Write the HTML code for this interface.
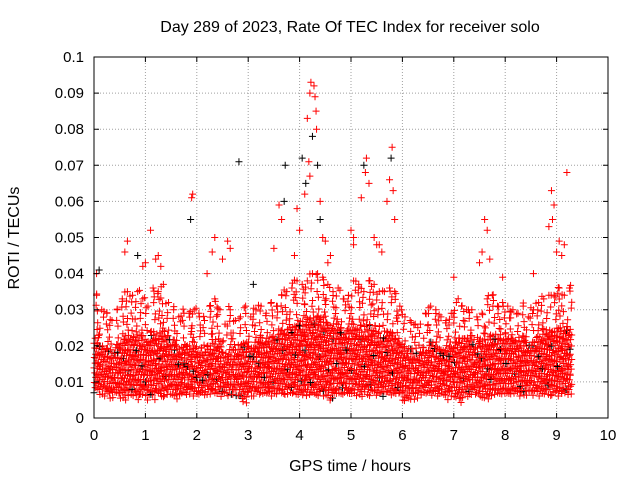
<!DOCTYPE html>
<html><head><meta charset="utf-8"><style>
body{margin:0;background:#fff;}
svg{display:block;font-family:"Liberation Sans",sans-serif;}
</style></head><body>
<svg id="chart" width="640" height="480">
<text x="350" y="32" font-size="16" text-anchor="middle">Day 289 of 2023, Rate Of TEC Index for receiver solo</text>
<text x="350" y="471" font-size="16" text-anchor="middle">GPS time / hours</text>
<text transform="translate(19,238) rotate(-90)" font-size="16" text-anchor="middle">ROTI / TECUs</text>
<g id="grid"></g><g id="marks"></g><g id="axes"></g>
</svg>
<script>
const xTicks=[0,1,2,3,4,5,6,7,8,9,10];
const yTicks=[0,0.01,0.02,0.03,0.04,0.05,0.06,0.07,0.08,0.09,0.1];
const yTickLabels=["0","0.01","0.02","0.03","0.04","0.05","0.06","0.07","0.08","0.09","0.1"];
// bins every 0.1 h from 0 to 9.2; values in 0.001 TECU
const bandLow=[7,6,6,5,6,5,5,6,5,6,5,5,6,5,6,6,5,6,6,6,6,6,6,6,6,6,6,6,5,4,6,6,6,6,6,6,6,6,6,6,6,6,6,6,6,5,5,6,6,6,6,6,6,6,6,6,6,6,6,6,4,5,5,6,6,6,6,6,5,6,5,4,6,6,6,5,5,6,6,6,6,6,6,6,6,6,6,6,6,6,6,6,6];
const bandCore=[22,20,19,18,20,21,23,22,23,22,21,24,23,24,22,21,19,20,20,21,19,18,20,21,21,18,19,19,20,21,20,21,22,21,23,22,24,24,25,26,26,27,28,28,27,26,25,26,24,25,26,25,24,26,25,23,23,24,23,21,19,19,18,18,19,21,20,19,19,20,21,22,22,22,20,21,22,23,22,22,23,22,21,22,20,21,23,24,24,24,25,24,25];
const bandHigh=[34,30,29,27,30,33,35,34,35,33,31,36,35,37,32,30,28,29,29,30,28,27,31,33,30,26,30,27,28,31,28,30,31,29,32,31,34,35,36,38,37,38,40,40,39,37,35,36,33,34,38,37,35,38,37,35,35,36,35,31,28,27,26,26,29,31,30,28,27,29,32,31,30,30,28,29,33,34,31,32,31,30,29,31,28,30,32,33,34,34,36,34,36];
const spikeX=[0.05,0.65,0.85,1.0,1.1,1.25,1.9,1.92,1.88,2.35,2.6,2.82,3.6,3.7,3.72,3.95,4.05,4.15,4.2,4.22,4.28,4.3,4.32,4.25,4.35,4.4,4.18,4.12,5.0,5.05,5.25,5.3,5.28,5.45,5.55,5.75,5.8,5.78,5.82,5.7,7.6,7.65,7.55,8.9,8.95,8.92,9.05,9.1,9.2,4.6,4.45,2.5,0.1,3.1,1.3,0.6,1.2,2.3,2.65,3.5,3.65,3.9,4.1,4.4,4.5,4.55,5.05,5.35,5.5,5.6,5.85,7.0,7.5,7.7,7.95,8.55,8.85,9.15,9.0,4.0,4.2,4.33,5.2,0.95,2.2];
const spikeY=[40,49,45,43,52,45,61,62,55,50,49,71,59,60,70,58,72,83,90,93,92,89,85,78,70,60,71,65,52,48,70,72,68,50,48,66,75,72,63,60,55,52,46,63,59,55,49,45,68,45,50,44,41,37,42,46,44,46,47,47,55,45,62,55,49,43,50,65,48,46,55,39,43,44,39,40,53,48,46,52,67,80,61,42,40];
const spikeBlack=[0,0,1,0,0,0,0,0,1,0,0,1,0,1,1,0,1,0,0,0,0,0,0,1,1,0,0,1,0,0,1,0,0,0,0,0,0,1,0,0,0,0,0,0,0,0,0,0,0,0,0,0,1,1,0,0,0,0,0,0,0,0,0,1,0,0,0,0,0,0,0,0,0,0,0,0,0,0,0,0,0,0,0,0,0];
const X0=94,X1=608,Y0=418,Y1=57;
const sx=v=>X0+(v/10)*(X1-X0);
const sy=v=>Y0-(v/0.1)*(Y0-Y1);
const NS="http://www.w3.org/2000/svg";
const grid=document.getElementById('grid'),axes=document.getElementById('axes'),marks=document.getElementById('marks');
function mk(tag,attrs,parent){const e=document.createElementNS(NS,tag);for(const k in attrs)e.setAttribute(k,attrs[k]);parent.appendChild(e);return e;}
xTicks.forEach((t,i)=>{const x=sx(t);
 if(i>0&&i<xTicks.length-1){const g=mk('line',{x1:x,x2:x,y1:Y0,y2:Y1,stroke:'#a0a0a0','stroke-dasharray':'1,2'},grid);
 
 }
 const tk=mk('path',{d:`M${x},${Y0}v-5M${x},${Y1}v5`,stroke:'#000'},axes);
 
 
 const l=mk('text',{x:x,y:Y0+22,'font-size':15,'text-anchor':'middle'},axes);l.textContent=t;
 
 });
yTicks.forEach((t,i)=>{const y=sy(t);
 if(i>0&&i<yTicks.length-1){const g=mk('line',{x1:X0,x2:X1,y1:y,y2:y,stroke:'#a0a0a0','stroke-dasharray':'1,2'},grid);
 
 }
 const tk=mk('path',{d:`M${X0},${y}h5M${X1},${y}h-5`,stroke:'#000'},axes);
 
 
 const l=mk('text',{x:X0-10,y:y+5,'font-size':15,'text-anchor':'end'},axes);l.textContent=yTickLabels[i];
 
 });
const frame=mk('rect',{x:X0,y:Y1,width:X1-X0,height:Y0-Y1,fill:'none',stroke:'#000'},axes);


function plus(x,y,col){const p=mk('path',{d:`M${x-3.5},${y}h7M${x},${y-3.5}v7`,stroke:col,'stroke-width':1},marks);
 
 }
const jx=[0,0.061,0.023,0.085,0.041,0.007,0.072,0.033,0.094,0.052,0.015,0.066];
const jy=[0,0.7,0.3,0.9,0.5,0.1,0.8,0.4,0.6,0.2];
let k=0;
bandLow.forEach((lo,i)=>{const core=bandCore[i],hi=bandHigh[i];const t=i*0.1;
 for(let v=lo;v<=core;v+=0.55){
  const col=(k%29===0)?'#000':'#ff0000';
  plus(sx(t+jx[k%12]),sy((v+jy[k%10])/1000),col);k++;}
 for(let v=core;v<=hi;v+=2.2){
  plus(sx(t+jx[(k*5)%12]),sy((v+jy[k%10]*1.5)/1000),'#ff0000');k++;}
 plus(sx(t+0.05),sy(hi/1000),'#ff0000');});
spikeX.forEach((t,i)=>plus(sx(t),sy(spikeY[i]/1000),spikeBlack[i]?'#000':'#ff0000'));
</script>
</body></html>
